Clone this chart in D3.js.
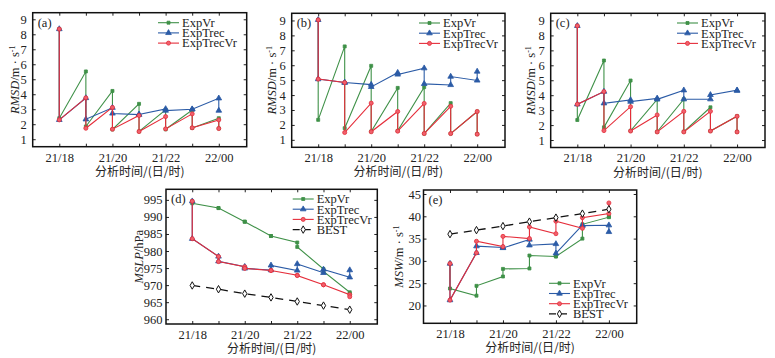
<!DOCTYPE html>
<meta charset="utf-8">
<script src="https://d3js.org/d3.v7.min.js"></script>
<style>
  body { margin: 0; background: #fff; }
</style>
<div id="chart"></div>
<script>

// analysis times (hours after 21/18)
var hours = [0, 1, 2, 3, 4, 5, 6];
var timeTicks = [0, 2, 4, 6];
var timeLabels = ["21/18", "21/20", "21/22", "22/00"];

// each experiment: background (before) and analysis (after) value at every cycle
// (a) RMSD
var aVrBg      = [8.35, 5.52, 4.22, 3.36, 2.96, 2.95, 2.40];
var aVrAn      = [2.40, 1.85, 1.65, 1.52, 1.66, 1.75, 1.72];
var aTrecBg    = [8.35, 3.75, 3.10, 2.64, 3.02, 3.00, 3.73];
var aTrecAn    = [2.29, 2.33, 2.72, 2.65, 2.91, 3.00, 2.91];
var aTrecVrBg  = [8.35, 3.76, 3.12, 2.58, 2.51, 2.69, 2.29];
var aTrecVrAn  = [2.29, 1.73, 1.67, 1.51, 1.69, 1.76, 1.71];
// (b) RMSD
var bVrBg      = [9.04, 7.26, 5.96, 4.48, 4.53, 3.46, 2.90];
var bVrAn      = [2.34, 1.78, 1.56, 1.60, 1.42, 1.42, 1.38];
var bTrecBg    = [9.04, 4.84, 4.70, 5.50, 5.80, 4.68, 4.98];
var bTrecAn    = [5.07, 4.84, 4.55, 5.38, 4.75, 5.24, 5.58];
var bTrecVrBg  = [9.04, 4.84, 3.46, 2.90, 3.44, 3.25, 2.90];
var bTrecVrAn  = [5.07, 1.49, 1.54, 1.58, 1.42, 1.42, 1.38];
// (c) RMSD
var cVrBg      = [8.64, 6.32, 4.98, 3.72, 3.73, 3.19, 2.59];
var cVrAn      = [2.34, 1.85, 1.62, 1.55, 1.56, 1.60, 1.55];
var cTrecBg    = [8.64, 4.24, 3.68, 3.79, 4.33, 3.73, 4.33];
var cTrecAn    = [3.39, 3.46, 3.57, 3.72, 3.73, 4.02, 4.30];
var cTrecVrBg  = [8.64, 4.24, 3.23, 2.68, 2.92, 2.92, 2.59];
var cTrecVrAn  = [3.39, 1.63, 1.60, 1.54, 1.54, 1.60, 1.54];
// (d) MSLP
var dVrBg      = [994.6, 992.6, 988.6, 984.4, 982.5, 974.7, 967.9];
var dVrAn      = [994.0, 992.6, 988.6, 984.4, 981.2, 974.0, 967.5];
var dTrecBg    = [994.6, 978.4, 975.4, 974.4, 974.3, 973.6, 972.3];
var dTrecAn    = [983.6, 977.0, 974.9, 975.8, 976.2, 974.6, 974.4];
var dTrecVrBg  = [994.6, 978.4, 975.4, 974.3, 972.9, 970.1, 967.2];
var dTrecVrAn  = [983.6, 976.9, 974.9, 974.3, 972.8, 970.1, 966.6];
var dBest      = [969.9, 968.8, 967.5, 966.4, 965.2, 964.0, 962.8];
// (e) MSW
var eVrBg      = [29.4, 22.2, 26.5, 28.3, 31.0, 35.0, 39.8];
var eVrAn      = [23.8, 24.4, 28.2, 31.2, 31.0, 38.2, 39.9];
var eTrecBg    = [29.4, 31.8, 33.0, 34.8, 33.8, 38.0, 38.0];
var eTrecAn    = [21.2, 33.3, 32.9, 33.5, 31.7, 37.9, 36.5];
var eTrecVrBg  = [29.4, 31.8, 33.2, 35.0, 36.1, 37.3, 40.6];
var eTrecVrAn  = [21.2, 34.4, 35.5, 37.6, 38.9, 39.7, 43.0];
var eBest      = [36.0, 36.9, 37.8, 38.8, 39.7, 40.6, 41.6];

var rmsdTicks = [1, 2, 3, 4, 5, 6, 7, 8, 9];
var mslpTicks = [960, 965, 970, 975, 980, 985, 990, 995];
var mswTicks  = [20, 25, 30, 35, 40, 45];

var colors = { ExpVr: "#3f9148", ExpTrec: "#2b5ba6", ExpTrecVr: "#e52d3a", BEST: "#111" };
var fills = { ExpVr: "#3f9148", ExpTrec: "#2b5ba6", ExpTrecVr: "#f0606c", BEST: "#fff" };
var symbols = { ExpVr: d3.symbolSquare, ExpTrec: d3.symbolTriangle, ExpTrecVr: d3.symbolCircle, BEST: d3.symbolDiamond };
var symSize = { ExpVr: 9, ExpTrec: 14, ExpTrecVr: 13, BEST: 16 };
var serif = "'Liberation Serif','Times New Roman',serif";
var cjk = "'Noto Sans CJK SC',sans-serif";

var svg = d3.select("#chart").append("svg")
  .attr("width", 775)
  .attr("height", 358)
  .style("background", "#fff");

// background -> analysis -> next background ...
function sawtooth(bg, an) {
  var pts = [];
  hours.forEach(function(h, i) { pts.push([h, bg[i]]); pts.push([h, an[i]]); });
  return pts;
}

function marker(sel, name) {
  sel.attr("d", d3.symbol().type(symbols[name]).size(symSize[name]))
    .attr("fill", fills[name])
    .attr("stroke", colors[name])
    .attr("stroke-width", name == "BEST" ? 1 : 0.8);
}

var panels = [
  { id: "(a)", x0: 32.7, x1: 246.7, y0: 12.7, y1: 146.7, dom: [0.5, 9.44], ticks: rmsdTicks, yPad: 6, ylx: 15, ylab: ["RMSD", "/m · s", "-1"],
    series: { ExpVr: [aVrBg, aVrAn], ExpTrec: [aTrecBg, aTrecAn], ExpTrecVr: [aTrecVrBg, aTrecVrAn] }, leg: [158, 22.7] },
  { id: "(b)", x0: 291.7, x1: 505, y0: 13.3, y1: 147.3, dom: [0.5, 9.48], ticks: rmsdTicks, yPad: 6, ylx: 272, ylab: ["RMSD", "/m · s", "-1"],
    series: { ExpVr: [bVrBg, bVrAn], ExpTrec: [bTrecBg, bTrecAn], ExpTrecVr: [bTrecVrBg, bTrecVrAn] }, leg: [419, 23] },
  { id: "(c)", x0: 550.7, x1: 765, y0: 13.3, y1: 147.5, dom: [0.5, 9.48], ticks: rmsdTicks, yPad: 6, ylx: 531, ylab: ["RMSD", "/m · s", "-1"],
    series: { ExpVr: [cVrBg, cVrAn], ExpTrec: [cTrecBg, cTrecAn], ExpTrecVr: [cTrecVrBg, cTrecVrAn] }, leg: [677, 23] },
  { id: "(d)", x0: 166, x1: 377.3, y0: 189.3, y1: 324, dom: [958.6, 998.1], ticks: mslpTicks, yPad: 3.5, ylx: 139, ylab: ["MSLP", "/hPa"],
    series: { ExpVr: [dVrBg, dVrAn], ExpTrec: [dTrecBg, dTrecAn], ExpTrecVr: [dTrecVrBg, dTrecVrAn] }, best: dBest, leg: [292.7, 199] },
  { id: "(e)", x0: 423.5, x1: 636.7, y0: 190, y1: 323.3, dom: [16, 45.9], ticks: mswTicks, yPad: 2.5, ylx: 399, ylab: ["MSW", "/m · s", "-1"],
    series: { ExpVr: [eVrBg, eVrAn], ExpTrec: [eTrecBg, eTrecAn], ExpTrecVr: [eTrecVrBg, eTrecVrAn] }, best: eBest, leg: [549, 283.3] }
];

panels.forEach(function(p) {
  var x = d3.scaleLinear().domain([-1, 7.05]).range([p.x0, p.x1]);
  var y = d3.scaleLinear().domain(p.dom).range([p.y1, p.y0]);
  var g = svg.append("g");

  // inward ticks on all four sides
  var axB = g.append("g").attr("transform", "translate(0," + p.y1 + ")")
    .call(d3.axisBottom(x).tickValues(hours).tickSize(-3).tickPadding(6)
      .tickFormat(function(d) { var k = timeTicks.indexOf(d); return k < 0 ? "" : timeLabels[k]; }));
  var axT = g.append("g").attr("transform", "translate(0," + p.y0 + ")")
    .call(d3.axisTop(x).tickValues(hours).tickSize(-3).tickFormat(""));
  var axL = g.append("g").attr("transform", "translate(" + p.x0 + ",0)")
    .call(d3.axisLeft(y).tickValues(p.ticks).tickSize(-3).tickPadding(p.yPad));
  var axR = g.append("g").attr("transform", "translate(" + p.x1 + ",0)")
    .call(d3.axisRight(y).tickValues(p.ticks).tickSize(-3).tickFormat(""));
  [axB, axT, axL, axR].forEach(function(a) {
    a.select(".domain").remove();
    a.selectAll("line").attr("stroke", "#222");
    a.selectAll("text").style("font-family", serif).style("font-size", "12.5px").attr("fill", "#222");
  });

  // lines: green, blue, red on top
  var line = d3.line().x(function(d) { return x(d[0]); }).y(function(d) { return y(d[1]); });
  ["ExpVr", "ExpTrec", "ExpTrecVr"].forEach(function(name) {
    var pts = sawtooth(p.series[name][0], p.series[name][1]);
    g.append("path").datum(pts)
      .attr("d", line)
      .attr("fill", "none")
      .attr("stroke", colors[name])
      .attr("stroke-width", 1.1);
    g.selectAll(null).data(pts).enter().append("path")
      .attr("transform", function(d) { return "translate(" + x(d[0]) + "," + y(d[1]) + ")"; })
      .call(marker, name);
  });

  if (p.best) {
    var bp = hours.map(function(h, i) { return [h, p.best[i]]; });
    g.append("path").datum(bp)
      .attr("d", line)
      .attr("fill", "none")
      .attr("stroke", colors.BEST)
      .attr("stroke-width", 1.3)
      .attr("stroke-dasharray", "8,6");
    g.selectAll(null).data(bp).enter().append("path")
      .attr("transform", function(d) { return "translate(" + x(d[0]) + "," + y(d[1]) + ")"; })
      .call(marker, "BEST");
  }

  // frame
  g.append("rect")
    .attr("x", p.x0).attr("y", p.y0)
    .attr("width", p.x1 - p.x0).attr("height", p.y1 - p.y0)
    .attr("fill", "none").attr("stroke", "#111").attr("stroke-width", 1.5);

  // panel label
  g.append("text")
    .attr("x", p.x0 + 5).attr("y", p.y0 + 14)
    .style("font-family", serif).style("font-size", "12.5px").attr("fill", "#222")
    .text(p.id);

  // legend
  var names = p.best ? ["ExpVr", "ExpTrec", "ExpTrecVr", "BEST"] : ["ExpVr", "ExpTrec", "ExpTrecVr"];
  names.forEach(function(name, i) {
    var ly = p.leg[1] + i * 10.2;
    g.append("line")
      .attr("x1", p.leg[0]).attr("x2", p.leg[0] + 21)
      .attr("y1", ly).attr("y2", ly)
      .attr("stroke", colors[name]).attr("stroke-width", 1.1)
      .attr("stroke-dasharray", name == "BEST" ? "7,4" : null);
    g.append("path")
      .attr("transform", "translate(" + (p.leg[0] + 10.5) + "," + ly + ")")
      .call(marker, name);
    g.append("text")
      .attr("x", p.leg[0] + 24).attr("y", ly + 4.3)
      .style("font-family", serif).style("font-size", "12.5px").attr("fill", "#222")
      .text(name);
  });

  // y axis title
  var yl = g.append("text")
    .attr("transform", "translate(" + p.ylx + "," + ((p.y0 + p.y1) / 2) + ") rotate(-90)")
    .attr("text-anchor", "middle")
    .attr("dy", "0.35em")
    .style("font-family", serif).style("font-size", "12.5px").attr("fill", "#222");
  yl.append("tspan").style("font-style", "italic").text(p.ylab[0]);
  yl.append("tspan").text(p.ylab[1]);
  if (p.ylab[2]) yl.append("tspan").attr("dy", -4).style("font-size", "8px").text(p.ylab[2]);

  // x axis title
  g.append("text")
    .attr("x", (p.x0 + p.x1) / 2).attr("y", p.y1 + 29)
    .attr("text-anchor", "middle")
    .style("font-family", cjk).style("font-size", "12px").attr("fill", "#222")
    .text("分析时间/(日/时)");
});

</script>
